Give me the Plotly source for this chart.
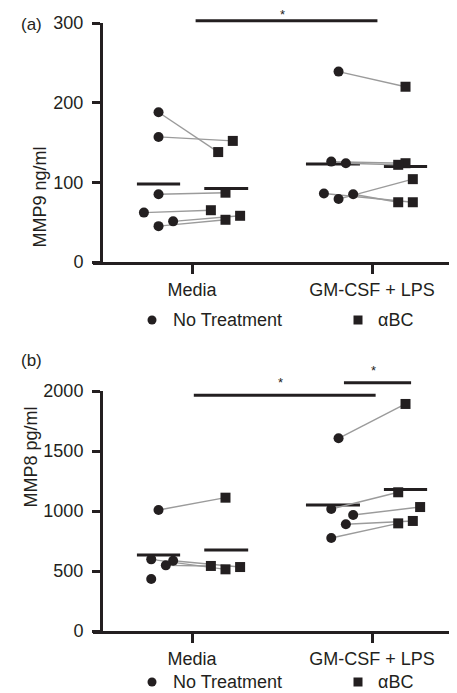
import plotly.graph_objects as go

# ---------------- data ----------------
categories = ["Media", "GM-CSF + LPS"]
series_names = ["No Treatment", "αBC"]

# Panel (a): MMP9 ng/ml (paired: NT[i] -> aBC[i])
mmp9_media_nt = [188, 157, 85, 62, 45, 51]
mmp9_media_abc = [138, 152, 87, 65, 53, 58]
mmp9_gm_nt = [239, 126, 124, 86, 79, 85]
mmp9_gm_abc = [220, 124, 122, 75, 104, 75]

# Panel (b): MMP8 pg/ml
mmp8_media_nt = [1008, 597, 586, 547, 433]
mmp8_media_abc = [1111, 514, 533, 542, None]
mmp8_gm_nt = [1606, 1017, 967, 889, 775]
mmp8_gm_abc = [1892, 1156, 1033, 917, 897]

# horizontal spread of the dot-plot points (in spread steps)
spread_a_media_nt = [0, 0, 0, -2, 0, 2]
spread_a_media_abc = [-1, 1, 0, -2, 0, 2]
spread_a_gm_nt = [0, -1, 1, -2, 0, 2]
spread_a_gm_abc = [0, 0, -1, 1, 1, -1]
spread_b_media_nt = [0, -1, 2, 1, -1]
spread_b_media_abc = [0, 0, 2, -2, 0]
spread_b_gm_nt = [0, -1, 2, 1, -1]
spread_b_gm_abc = [0, -1, 2, 1, -1]

# ---------------- style / layout ----------------
OFF = 8                      # page body margin of the browser
W, H = 457 - OFF, 693 - OFF  # figure size so it fits the window exactly
INK = "#231f20"
GREY = "#9b9b9b"
FONT = "Liberation Sans, Arial, Helvetica, sans-serif"
GROUP_OFF = 0.186
STEP = 0.0406
MEAN_BARS = {"nt": [(-0.186, 0.12), (-0.217, 0.15)], "abc": [(0.19, 0.122), (0.186, 0.12)]}


def X(p):
    return (p - OFF) / W


def Y(p):
    return 1 - (p - OFF) / H


def mean(vals):
    v = [x for x in vals if x is not None]
    return sum(v) / len(v)


fig = go.Figure()


def add_panel(nt_sets, abc_sets, nt_spreads, abc_spreads, xa, ya):
    mx, my = [], []
    for ci in range(2):
        pos = ci + 1
        for key, sets in (("nt", nt_sets), ("abc", abc_sets)):
            c, hw = MEAN_BARS[key][ci]
            m = mean(sets[ci])
            mx += [pos + c - hw, pos + c + hw, None]
            my += [m, m, None]
    fig.add_trace(go.Scatter(x=mx, y=my, mode="lines", line=dict(color=INK, width=3),
                             xaxis=xa, yaxis=ya, showlegend=False, hoverinfo="skip"))
    lx, ly = [], []
    cx_nt, cy_nt, cx_abc, cy_abc = [], [], [], []
    for ci in range(2):
        pos = ci + 1
        for v1, v2, s1, s2 in zip(nt_sets[ci], abc_sets[ci], nt_spreads[ci], abc_spreads[ci]):
            x1 = pos - GROUP_OFF + STEP * s1
            x2 = pos + GROUP_OFF + STEP * s2
            cx_nt.append(x1); cy_nt.append(v1)
            if v2 is not None:
                lx += [x1, x2, None]; ly += [v1, v2, None]
                cx_abc.append(x2); cy_abc.append(v2)
    fig.add_trace(go.Scatter(x=lx, y=ly, mode="lines", line=dict(color=GREY, width=1.4),
                             xaxis=xa, yaxis=ya, showlegend=False, hoverinfo="skip"))
    fig.add_trace(go.Scatter(x=cx_nt, y=cy_nt, mode="markers", name=series_names[0],
                             marker=dict(symbol="circle", size=10, color=INK),
                             xaxis=xa, yaxis=ya, showlegend=False, cliponaxis=False))
    fig.add_trace(go.Scatter(x=cx_abc, y=cy_abc, mode="markers", name=series_names[1],
                             marker=dict(symbol="square", size=10, color=INK),
                             xaxis=xa, yaxis=ya, showlegend=False, cliponaxis=False))


add_panel([mmp9_media_nt, mmp9_gm_nt], [mmp9_media_abc, mmp9_gm_abc],
          [spread_a_media_nt, spread_a_gm_nt], [spread_a_media_abc, spread_a_gm_abc], "x", "y")
add_panel([mmp8_media_nt, mmp8_gm_nt], [mmp8_media_abc, mmp8_gm_abc],
          [spread_b_media_nt, spread_b_gm_nt], [spread_b_media_abc, spread_b_gm_abc], "x2", "y2")


def xaxis_cfg(anchor):
    return dict(domain=[X(93), 1], range=[0.45, 2.472], anchor=anchor,
                tickvals=[1, 2], ticktext=categories, ticks="outside", ticklen=9,
                tickwidth=3, tickcolor=INK, showline=True, linewidth=3, linecolor=INK,
                showgrid=False, zeroline=False, tickfont=dict(size=18, color=INK, family=FONT))


def yaxis_cfg(dom, rng, tickvals):
    return dict(domain=dom, range=rng, anchor="free", position=X(101),
                tickvals=tickvals, ticks="outside", ticklen=8, tickwidth=3, tickcolor=INK,
                showline=True, linewidth=3, linecolor=INK, showgrid=False, zeroline=False,
                ticklabelstandoff=5,
                tickfont=dict(size=18, color=INK, family=FONT))


fig.update_layout(
    width=W, height=H, margin=dict(l=0, r=0, t=0, b=0, autoexpand=False),
    paper_bgcolor="white", plot_bgcolor="white",
    font=dict(family=FONT, color=INK),
    xaxis=xaxis_cfg("y"),
    yaxis=yaxis_cfg([Y(262), Y(23)], [0, 300], [0, 100, 200, 300]),
    xaxis2=xaxis_cfg("y2"),
    yaxis2=yaxis_cfg([Y(631), Y(391)], [0, 2000], [0, 500, 1000, 1500, 2000]),
    showlegend=False,
)

# significance bars
sig_bars = [
    ("x", "y", 1.02, 2.03, 1.0096),
    ("x2", "y2", 1.01, 2.02, 0.982),
    ("x2", "y2", 1.844, 2.217, 1.0346),
]
for xa, ya, x0, x1, yy in sig_bars:
    fig.add_shape(type="line", xref=xa, yref=ya + " domain", x0=x0, x1=x1, y0=yy, y1=yy,
                  line=dict(color=INK, width=3))
# stars (the top one hugs the top edge of the figure)
fig.add_annotation(text="*", xref="x", yref="paper", x=1.505, y=1, yanchor="top", yshift=3,
                   showarrow=False, font=dict(size=13, color=INK, family=FONT))
stars = [("x2", "y2", 1.494, 1.0375), ("x2", "y2", 2.01, 1.0846)]
for xa, ya, xx, yy in stars:
    fig.add_annotation(text="*", xref=xa, yref=ya + " domain", x=xx, y=yy, showarrow=False,
                       font=dict(size=13, color=INK, family=FONT), yanchor="middle")

# legends (one per panel)
for ly in (320, 682):
    fig.add_shape(type="circle", xref="paper", yref="paper",
                  x0=X(152 - 4.5), x1=X(152 + 4.5), y0=Y(ly + 4.5), y1=Y(ly - 4.5),
                  fillcolor=INK, line=dict(width=0))
    fig.add_shape(type="rect", xref="paper", yref="paper",
                  x0=X(358 - 4.5), x1=X(358 + 4.5), y0=Y(ly + 4.5), y1=Y(ly - 4.5),
                  fillcolor=INK, line=dict(width=0))
    fig.add_annotation(text=series_names[0], xref="paper", yref="paper", x=X(171), y=Y(ly),
                       xanchor="left", yanchor="middle", showarrow=False,
                       font=dict(size=18, color=INK))
    fig.add_annotation(text=series_names[1], xref="paper", yref="paper", x=X(376), y=Y(ly),
                       xanchor="left", yanchor="middle", showarrow=False,
                       font=dict(size=18, color=INK))

# panel labels and axis titles
fig.add_annotation(text="(a)", xref="paper", yref="paper", x=X(19), y=Y(25),
                   xanchor="left", yanchor="middle", showarrow=False, font=dict(size=17, color=INK))
fig.add_annotation(text="(b)", xref="paper", yref="paper", x=X(19), y=Y(361),
                   xanchor="left", yanchor="middle", showarrow=False, font=dict(size=17, color=INK))
fig.add_annotation(text="MMP9 ng/ml", xref="paper", yref="paper", x=X(28), y=Y(145),
                   textangle=-90, showarrow=False, font=dict(size=18, color=INK))
fig.add_annotation(text="MMP8 pg/ml", xref="paper", yref="paper", x=X(18), y=Y(510),
                   textangle=-90, showarrow=False, font=dict(size=18, color=INK))

fig.write_html("out.html")
